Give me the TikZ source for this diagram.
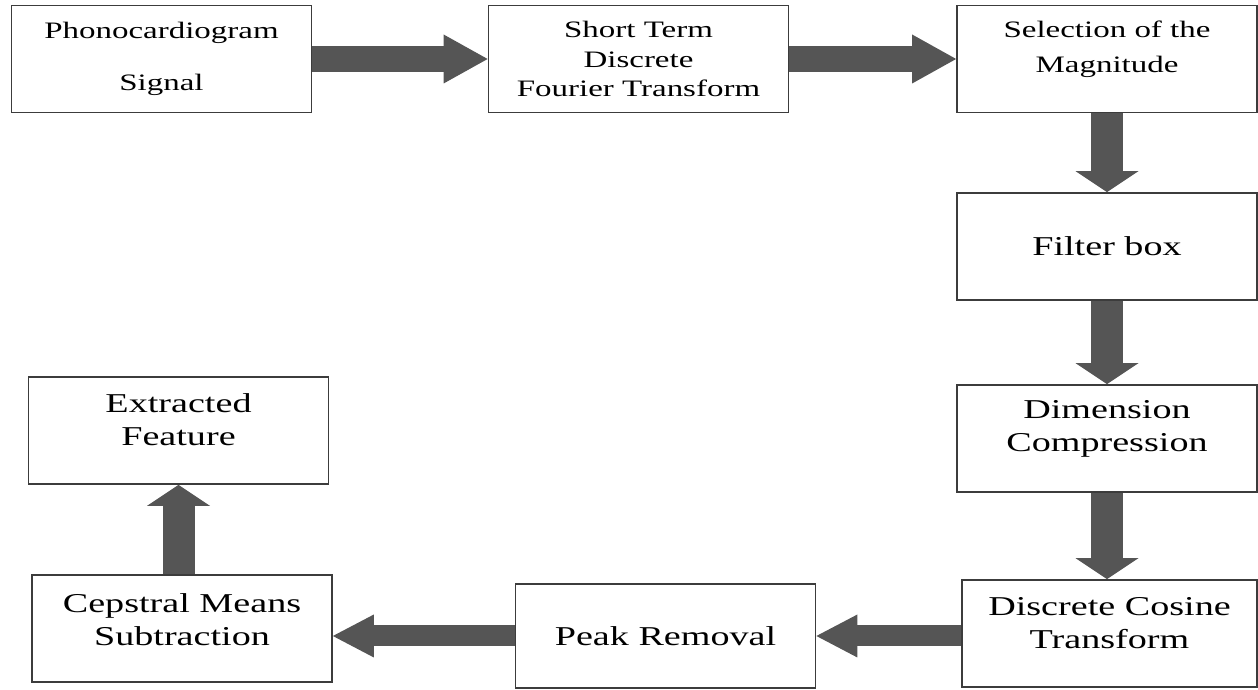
\documentclass[tikz,border=0pt]{standalone}
\usepackage{fontspec}
\setmainfont[FakeStretch=1.4]{Liberation Serif}
\usetikzlibrary{arrows.meta}
\definecolor{arrgray}{RGB}{85,85,85}
\definecolor{boxline}{RGB}{60,60,60}
\newcommand{\toprow}{\fontsize{13.4pt}{17pt}\selectfont}
\newcommand{\lowrow}{\fontsize{15.5pt}{18.8pt}\selectfont}

\begin{document}
\begin{tikzpicture}[
  blk/.style={draw=boxline, line width=1pt, align=center, inner sep=0pt,
    minimum width=6cm, minimum height=2.14cm},
  lifted/.style={text depth=#1},
  rarr/.style={draw=arrgray, line width=0.52cm,
    -{Triangle[width=0.98cm, length=0.88cm, line width=0pt]}},
  darr/.style={draw=arrgray, line width=0.64cm,
    -{Triangle[width=1.26cm, length=0.42cm, line width=0pt]}},
  larr/.style={draw=arrgray, line width=0.42cm,
    -{Triangle[width=0.86cm, length=0.82cm, line width=0pt]}}]
\useasboundingbox (0,0) rectangle (25.16,13.8);
\node[blk, font=\toprow] (pcg) at (3.23,12.62) {Phonocardiogram\\[13pt]Signal};
\node[blk, font=\toprow] (stdft) at (12.77,12.62) {Short Term\\Discrete\\Fourier Transform};
\node[blk, font=\toprow, lifted=0.5cm] (mag) at (22.14,12.62) {Selection of the\\[3pt]Magnitude};
\node[blk, font=\lowrow] (filt) at (22.14,8.87) {Filter box};
\node[blk, font=\lowrow, lifted=0.5cm] (dim) at (22.14,5.03) {Dimension\\Compression};
\node[blk, font=\lowrow, minimum width=5.9cm, lifted=0.42cm] (dct) at (22.19,1.13) {Discrete Cosine\\Transform};
\node[blk, font=\lowrow, minimum height=2.08cm] (peak) at (13.31,1.08) {Peak Removal};
\node[blk, font=\lowrow, lifted=0.35cm] (cms) at (3.64,1.23) {Cepstral Means\\Subtraction};
\node[blk, font=\lowrow, lifted=0.45cm] (feat) at (3.57,5.19) {Extracted\\Feature};
\draw[rarr] (pcg) -- (stdft);
\draw[rarr] (stdft) -- (mag);
\draw[darr] (mag) -- (filt);
\draw[darr] (filt) -- (dim);
\draw[darr] (dim) -- (dim.south |- dct.north);
\draw[larr] (dct.west |- peak.east) -- (peak.east);
\draw[larr] (peak.west) -- (cms.east |- peak.west);
\draw[darr] (feat.south |- cms.north) -- (feat.south);
\end{tikzpicture}
\end{document}
